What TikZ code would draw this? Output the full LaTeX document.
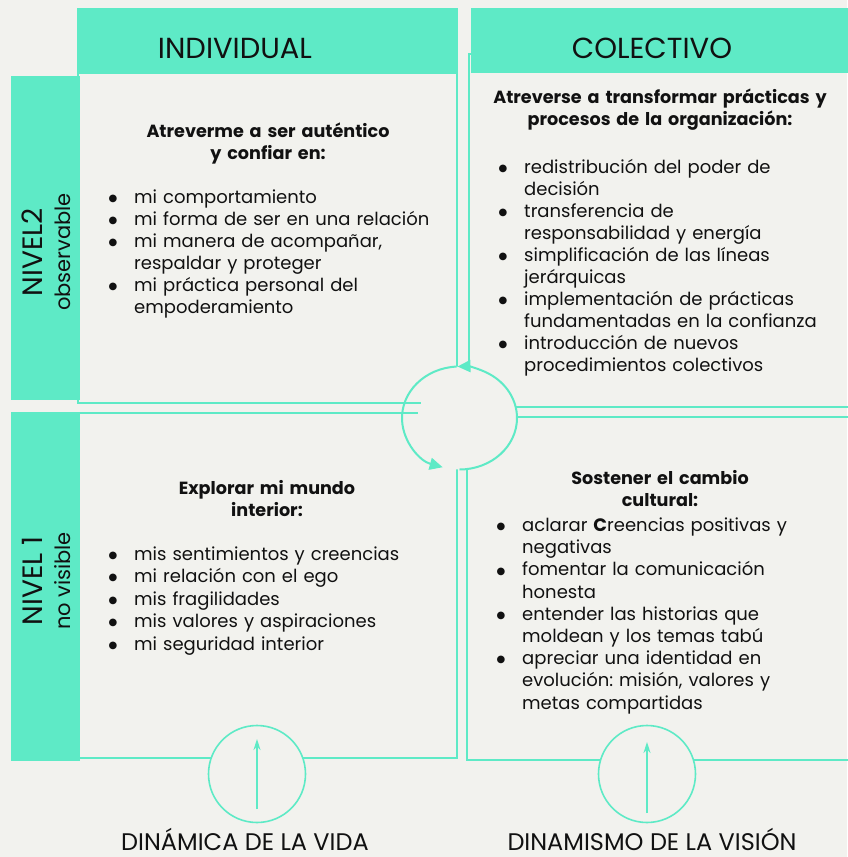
\documentclass[tikz,border=0pt]{standalone}
\usepackage{fontspec}
\setmainfont{Poppins}
\newfontfamily\dotfont{DejaVu Sans}
\frenchspacing
\usetikzlibrary{arrows.meta}
\definecolor{mint}{HTML}{5EEAC6}
\definecolor{paper}{HTML}{F2F2EE}
\definecolor{ink}{HTML}{111111}
\newcommand\itm[1]{\par\hangindent=26pt\hangafter=1\noindent\strut\makebox[26pt][l]{\hspace{0.5pt}\raisebox{1.8pt}{\dotfont\fontsize{10}{10}\selectfont ●}}#1\par}
\tikzstyle{panel}=[draw=mint, line width=1.2pt]
\tikzstyle{band}=[fill=mint]
\tikzstyle{head}=[inner sep=0, text=ink, anchor=base, font=\fontsize{29}{32}\selectfont]
\tikzstyle{side}=[inner sep=0, text=ink, rotate=90, align=center, font=\fontsize{20}{28}\selectfont]
\tikzstyle{lead}=[inner sep=0, text=ink, anchor=north, align=center, text width=380pt, font=\fontsize{17.6}{22}\selectfont\bfseries]
\tikzstyle{list}=[inner sep=0, text=ink, anchor=north west, align=left, text width=400pt, font=\fontsize{18}{22}\selectfont]
\tikzstyle{foot}=[inner sep=0, text=ink, anchor=base, text depth=0pt, font=\fontsize{24}{26}\selectfont]
\tikzstyle{ring}=[circle, draw=mint, line width=1.6pt, fill=paper, minimum size=97pt, inner sep=0]
\tikzstyle{cyc}=[draw=mint, line width=2pt, -{Triangle[length=13pt,width=12pt]}]
\tikzstyle{rise}=[draw=mint, line width=1.6pt, -{Stealth[length=11pt,width=7pt]}]

\begin{document}
\begin{tikzpicture}[x=1pt,y=1pt]
\fill[paper] (0,0) rectangle (847,-857);
\useasboundingbox (0,0) rectangle (847,-857);

% the four quadrants
\draw[panel] (78,-73) rectangle (457,-403);
\draw[panel] (469,-54) rectangle (852,-407);
\draw[panel] (78,-413) rectangle (457,-758);
\draw[panel] (467,-417) rectangle (852,-760);

% column heads and row bands
\fill[band] (77,-8) rectangle (458,-73);
\fill[band] (471,-8) rectangle (850,-73);
\fill[band] (11,-76) rectangle (80,-400);
\fill[band] (11,-412) rectangle (80,-761);

\node[head] (indiv) at (235,-58) {INDIVIDUAL};
\node[head] (colec) at (652,-58) {COLECTIVO};
\node[side] (n2) at (46,-252) {{\fontsize{28}{28}\selectfont NIVEL2}\\{\fontsize{21}{28}\selectfont observable}};
\node[side] (n1) at (46,-581) {{\fontsize{28}{28}\selectfont NIVEL 1}\\{\fontsize{21}{28}\selectfont no visible}};

% cycle in the middle
\coordinate (hub) at (459.5,-418);
\fill[paper] (hub) ellipse [x radius=57.5, y radius=51.5];
\draw[panel] (400,-403) -- (421,-403) (400,-413) -- (418,-413);
\draw[cyc] (hub) ++(-90:57.5 and 51.5) arc[start angle=-90, end angle=92, x radius=57.5, y radius=51.5];
\draw[cyc] (hub) ++(93:57.5 and 51.5) arc[start angle=93, end angle=253, x radius=57.5, y radius=51.5];

% individual, observable
\node[lead] (tlhead) at (268,-122) {\strut Atreverme a ser auténtico\\y confiar en:};
\node[list] (tllist) at (108,-181) {%
  \itm{mi comportamiento}
  \itm{mi forma de ser en una relación}
  \itm{mi manera de acompañar,\newline respaldar y proteger}
  \itm{mi práctica personal del\newline empoderamiento}};

% colectivo, observable
\node[lead] (trhead) at (660,-87.5) {\strut Atreverse a transformar prácticas y\\procesos de la organización:};
\node[list] (trlist) at (498,-151) {%
  \itm{redistribución del poder de\newline decisión}
  \itm{transferencia de\newline responsabilidad y energía}
  \itm{simplificación de las líneas\newline jerárquicas}
  \itm{implementación de prácticas\newline fundamentadas en la confianza}
  \itm{introducción de nuevos\newline procedimientos colectivos}};

% individual, no visible
\node[lead] (blhead) at (267,-479) {\strut Explorar mi mundo\\interior:};
\node[list, font=\fontsize{18}{22.5}\selectfont] (bllist) at (108,-537.5) {%
  \itm{mis sentimientos y creencias}
  \itm{mi relación con el ego}
  \itm{mis fragilidades}
  \itm{mis valores y aspiraciones}
  \itm{mi seguridad interior}};

% colectivo, no visible
\node[lead] (brhead) at (660,-469) {\strut Sostener el cambio\\cultural:};
\node[list, font=\fontsize{18}{22.2}\selectfont] (brlist) at (496,-509) {%
  \itm{aclarar \textbf{C}reencias positivas y\newline negativas}
  \itm{fomentar la comunicación\newline honesta}
  \itm{entender las historias que\newline moldean y los temas tabú}
  \itm{apreciar una identidad en\newline evolución: misión, valores y\newline metas compartidas}};

% dynamics at the bottom
\node[ring] (life) at (257,-774) {};
\node[ring] (vision) at (647,-774) {};
\coordinate (lifefoot) at (257,-809);
\coordinate (lifetip) at (257,-739);
\coordinate (visfoot) at (647,-813);
\coordinate (vistip) at (647,-742);
\draw[rise] (lifefoot) -- (lifetip);
\draw[rise] (visfoot) -- (vistip);
\node[foot] (vida) at (245,-850) {DINÁMICA DE LA VIDA};
\node[foot] (vis) at (652,-850) {DINAMISMO DE LA VISIÓN};
\end{tikzpicture}
\end{document}
